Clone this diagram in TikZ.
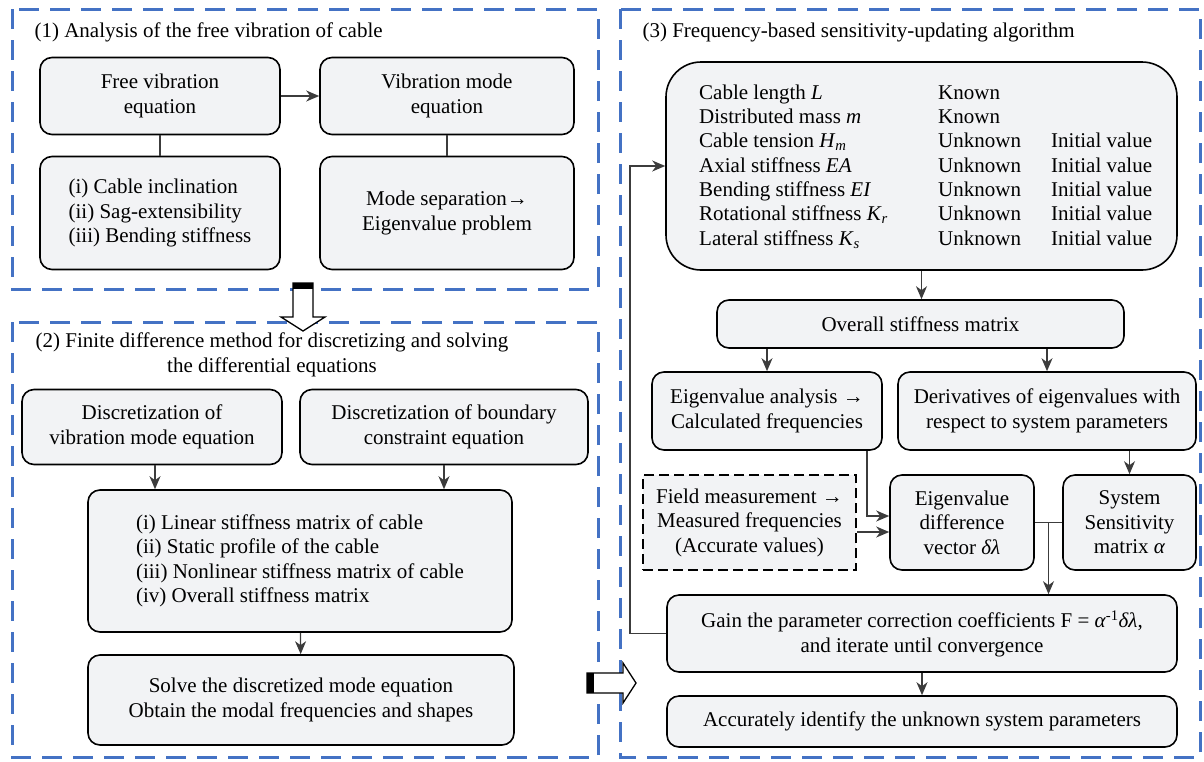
\documentclass[tikz,border=0pt]{standalone}
\usepackage{fontspec}
\setmainfont{Liberation Serif}
\usetikzlibrary{arrows.meta}
\definecolor{panelblue}{RGB}{68,114,196}
\definecolor{boxgray}{RGB}{242,243,245}
\definecolor{linegray}{RGB}{60,60,60}

\begin{document}
\begin{tikzpicture}[x=1pt,y=-1pt,
  font=\fontsize{21}{24.5}\selectfont,
  panel/.style={draw=panelblue, line width=3pt, dash pattern=on 20pt off 11pt},
  blk/.style={draw, line width=1.6pt, rounded corners=12pt, fill=boxgray, align=center},
  conn/.style={draw=linegray, line width=1.3pt},
  arr/.style={conn, -{Stealth[length=13pt,width=11pt,inset=4pt]}},
  hollow/.style={draw, line width=1.3pt, fill=white}]

\useasboundingbox (0,0) rectangle (1204,761);

% the three dashed panels
\draw[panel] (12,9) rectangle (598,289);
\draw[panel] (12,322) rectangle (598,757);
\draw[panel] (620,9) rectangle (1200,757);

% (1) free vibration
\node[anchor=west] (tone) at (31,32) {(1) Analysis of the free vibration of cable};
\node[blk, minimum width=240pt, minimum height=77pt] (freeeq) at (160,96) {Free vibration\\equation};
\node[blk, minimum width=254pt, minimum height=77pt] (modeeq) at (447,96) {Vibration mode\\equation};
\node[blk, minimum width=240pt, minimum height=113pt, align=left] (feat) at (160,213)
  {(i) Cable inclination\\(ii) Sag-extensibility\\(iii) Bending stiffness};
\node[blk, minimum width=254pt, minimum height=113pt] (modesep) at (447,213) {Mode separation→\\Eigenvalue problem};
\draw[arr] (freeeq) -- (modeeq);
\draw[conn] (freeeq) -- (feat);
\draw[conn] (modeeq) -- (modesep);

% (2) finite differences
\node[align=center] (ttwo) at (272,355) {(2) Finite difference method for discretizing and solving\\the differential equations};
\node[blk, minimum width=260pt, minimum height=75pt] (dmode) at (152,427) {Discretization of\\vibration mode equation};
\node[blk, minimum width=288pt, minimum height=75pt] (dbound) at (444,427) {Discretization of boundary\\constraint equation};
\node[blk, minimum width=424pt, minimum height=142pt, align=left] (stiff) at (300,561)
  {(i) Linear stiffness matrix of cable\\(ii) Static profile of the cable\\(iii) Nonlinear stiffness matrix of cable\\(iv) Overall stiffness matrix};
\node[blk, minimum width=426pt, minimum height=90pt] (solve) at (301,700) {Solve the discretized mode equation\\Obtain the modal frequencies and shapes};
\draw[arr] ([xshift=3pt]dmode.south) -- ([xshift=3pt]dmode.south |- stiff.north);
\draw[arr] (dbound.south) -- (dbound.south |- stiff.north);
\draw[arr] (stiff) -- (solve);

% (3) sensitivity updating
\node[anchor=west] (tthree) at (639,32) {(3) Frequency-based sensitivity-updating algorithm};
\node[blk, rounded corners=35pt, minimum width=511pt, minimum height=208pt] (params) at (921.5,166) {};
\foreach \pname/\pstate/\pinit [count=\i] in {
    Cable length \textit{L}/Known/,
    Distributed mass \textit{m}/Known/,
    Cable tension \textit{H}\textsubscript{\textit{m}}/Unknown/Initial value,
    Axial stiffness \textit{EA}/Unknown/Initial value,
    Bending stiffness \textit{EI}/Unknown/Initial value,
    Rotational stiffness \textit{K}\textsubscript{\textit{r}}/Unknown/Initial value,
    Lateral stiffness \textit{K}\textsubscript{\textit{s}}/Unknown/Initial value}
{
  \node[anchor=base west, inner sep=0pt] (pname\i) at (699,{74.7+24.33*\i}) {\pname};
  \node[anchor=base west, inner sep=0pt] (pstate\i) at (938,{74.7+24.33*\i}) {\pstate};
  \node[anchor=base west, inner sep=0pt] (pinit\i) at (1051,{74.7+24.33*\i}) {\pinit};
}
\node[blk, minimum width=407pt, minimum height=48pt] (overall) at (920.5,324) {Overall stiffness matrix};
\node[blk, minimum width=230pt, minimum height=78pt] (eiga) at (767,411) {Eigenvalue analysis →\\Calculated frequencies};
\node[blk, minimum width=298pt, minimum height=78pt] (deriv) at (1047,411) {Derivatives of eigenvalues with\\respect to system parameters};
\node[draw, line width=1.6pt, dash pattern=on 10pt off 5pt, fill=boxgray, align=center,
  minimum width=213pt, minimum height=95pt] (field) at (749.5,522.5) {Field measurement →\\Measured frequencies\\(Accurate values)};
\node[blk, minimum width=144pt, minimum height=95pt] (diff) at (962,522.5) {Eigenvalue\\difference\\vector \textit{δλ}};
\node[blk, minimum width=133pt, minimum height=95pt] (sens) at (1129.5,522.5) {System\\Sensitivity\\matrix \textit{α}};
\node[blk, minimum width=510pt, minimum height=77pt] (gain) at (922,633.5)
  {Gain the parameter correction coefficients F = \textit{α}\textsuperscript{-1}\textit{δλ},\\and iterate until convergence};
\node[blk, minimum width=510pt, minimum height=51pt] (final) at (922,721.5) {Accurately identify the unknown system parameters};
\coordinate (fback) at (630,400);

\draw[arr] (params.south) -- (params.south |- overall.north);
\draw[arr] (overall.south -| eiga) -- (eiga.north);
\draw[arr] (overall.south -| deriv) -- (deriv.north);
\draw[arr] ([xshift=100pt]eiga.south) |- ([yshift=6.5pt]diff.west);
\draw[arr] ([yshift=-9.5pt]field.east) -- ([yshift=-9.5pt]diff.west);
\draw[arr] (deriv.south -| sens) -- (sens.north);
\draw[conn] (diff) -- coordinate (dsmid) (sens);
\draw[arr] (dsmid) -- (dsmid |- gain.north);
\draw[arr] (gain) -- (final);
\draw[arr] (gain.west) -| (fback) |- (params.west);

% hollow block arrows between panels
\draw[hollow] (293,283) -- (313,283) -- (313,317) -- (325,317) -- (303,331) -- (281,317) -- (293,317) -- cycle;
\fill (293,283) rectangle (313,289);
\draw[hollow] (587,673) -- (623,673) -- (623,663) -- (636,683) -- (623,703) -- (623,693) -- (587,693) -- cycle;
\fill (587,673) rectangle (594,693);
\end{tikzpicture}
\end{document}
